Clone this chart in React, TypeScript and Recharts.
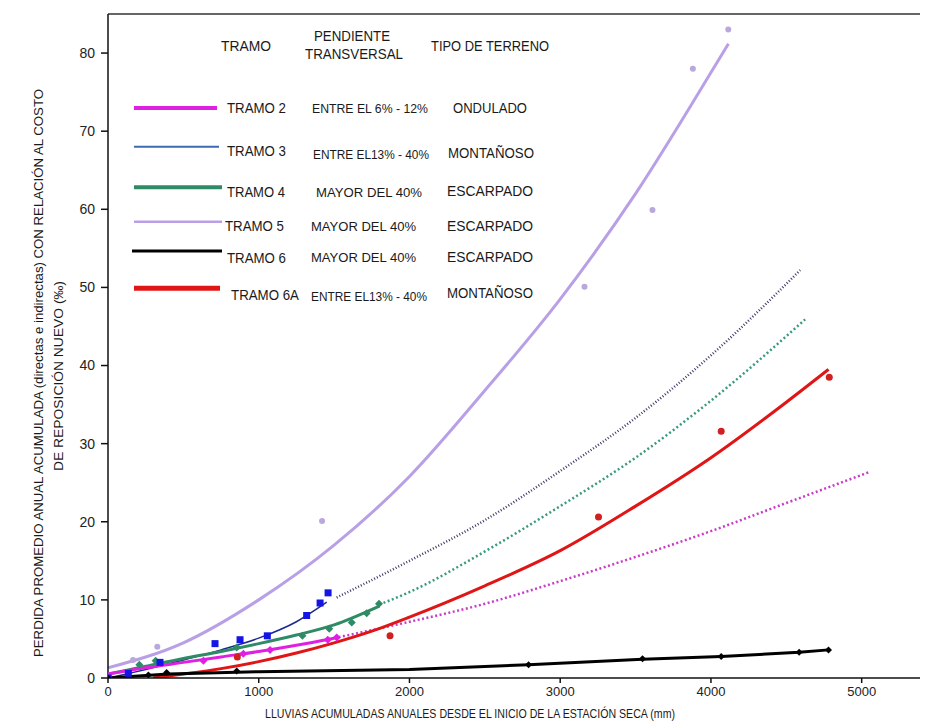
import React from "react";
import { ComposedChart, Line, Scatter, XAxis, YAxis, ReferenceLine } from "recharts";

// ---- axes ----
const xTicks = [0, 1000, 2000, 3000, 4000, 5000];
const yTicks = [0, 10, 20, 30, 40, 50, 60, 70, 80];

// ---- TRAMO 2 (magenta) ----
const t2Fit = [[0, 0.5], [250, 1.3], [500, 2.0], [750, 2.7], [1000, 3.4], [1250, 4.2], [1500, 5.1]];
const t2Trend = [[1500, 5.1], [2000, 7.2], [2500, 9.5], [3000, 12.4], [3500, 15.5], [4000, 18.8], [4500, 22.4], [5056, 26.4]];
const t2Pts = [[0, 0.3], [633, 2.2], [898, 3.1], [1075, 3.6], [1458, 4.9], [1517, 5.2]];

// ---- TRAMO 3 (blue) ----
const t3Fit = [[0, 0], [250, 1.1], [500, 2.3], [750, 3.6], [1000, 5.1], [1250, 7.2], [1451, 9.7]];
const t3Trend = [[1517, 10.3], [2000, 15.0], [2500, 20.2], [3000, 26.5], [3500, 33.3], [4000, 41.3], [4592, 52.2]];
const t3Pts = [[0, 0], [135, 0.6], [345, 2.0], [710, 4.4], [876, 4.9], [1057, 5.4], [1318, 8.0], [1407, 9.6], [1460, 10.9]];

// ---- TRAMO 4 (green) ----
const t4Fit = [[0, 0.5], [250, 1.5], [500, 2.5], [750, 3.4], [1000, 4.4], [1250, 5.5], [1500, 6.8], [1800, 9.2]];
const t4Trend = [[1800, 9.4], [2000, 11.0], [2500, 16.2], [3000, 22.0], [3500, 28.2], [4000, 35.5], [4625, 45.9]];
const t4Pts = [[0, 0.3], [208, 1.7], [316, 2.2], [854, 3.9], [1290, 5.4], [1468, 6.3], [1617, 7.1], [1716, 8.3], [1798, 9.5]];

// ---- TRAMO 5 (lavender) ----
const t5Fit = [[0, 1.3], [500, 4.5], [1000, 10.0], [1500, 17.0], [2000, 25.8], [2500, 36.8], [3000, 48.5], [3500, 62.0], [4000, 77.5], [4116, 81.2]];
const t5Pts = [[166, 2.3], [327, 4.0], [1420, 20.1], [3161, 50.1], [3612, 59.9], [3880, 78.0], [4115, 83.0]];

// ---- TRAMO 6 (black) ----
const t6Fit = [[0, 0], [400, 0.5], [1000, 0.8], [2000, 1.1], [2790, 1.7], [3546, 2.4], [4068, 2.75], [4585, 3.3], [4780, 3.6]];
const t6Pts = [[0, 0], [268, 0.4], [389, 0.7], [854, 0.9], [2790, 1.7], [3546, 2.45], [4068, 2.75], [4585, 3.3], [4780, 3.6]];

// ---- TRAMO 6A (red) ----
const t6aFit = [[300, 0], [500, 0.5], [750, 1.2], [1000, 2.1], [1250, 3.2], [1500, 4.5], [1750, 6.0], [2000, 7.8], [2500, 11.8], [3000, 16.3], [3500, 22.0], [4000, 28.2], [4500, 35.3], [4780, 39.5]];
const t6aPts = [[858, 2.7], [1871, 5.4], [3254, 20.6], [4068, 31.6], [4785, 38.5]];

// ---- legend table ----
const legendHeaders = ["TRAMO", "PENDIENTE", "TRANSVERSAL", "TIPO DE TERRENO"];
const legendTramos = ["TRAMO 2", "TRAMO 3", "TRAMO 4", "TRAMO 5", "TRAMO 6", "TRAMO 6A"];
const legendPend = ["ENTRE EL 6% - 12%", "ENTRE EL13% - 40%", "MAYOR DEL 40%", "MAYOR DEL 40%", "MAYOR DEL 40%", "ENTRE EL13% - 40%"];
const legendTerreno = ["ONDULADO", "MONTAÑOSO", "ESCARPADO", "ESCARPADO", "ESCARPADO", "MONTAÑOSO"];

const xLabel = "LLUVIAS ACUMULADAS ANUALES DESDE EL INICIO DE LA ESTACIÓN SECA (mm)";
const yLabel1 = "PERDIDA PROMEDIO ANUAL ACUMULADA (directas e indirectas) CON RELACIÓN AL COSTO";
const yLabel2 = "DE REPOSICIÓN NUEVO (‰)";

const toXY = (arr: number[][]) => arr.map(([x, y]) => ({ x, y }));

const FONT = "'Liberation Sans', Arial, sans-serif";

const C = {
  magenta: "#E020E0",
  magentaDot: "#C83CC8",
  blueLine: "#1C2A8C",
  blueMark: "#1414E6",
  blueTrend: "#3A3A66",
  blueLegend: "#3D6AB0",
  green: "#2F8B66",
  greenDot: "#3A9A80",
  lav: "#B9A0E6",
  lavPt: "#B8A8DC",
  black: "#000000",
  red: "#E01515",
  redPt: "#D02020",
};

const square = (p: any) => (
  <rect x={p.cx - 3.5} y={p.cy - 3.5} width={7} height={7} fill={p.fill} />
);
const circ = (r: number) => (p: any) => <circle cx={p.cx} cy={p.cy} r={r} fill={p.fill} />;
const diamond = (s: number) => (p: any) => (
  <path d={`M${p.cx},${p.cy - s}L${p.cx + s},${p.cy}L${p.cx},${p.cy + s}L${p.cx - s},${p.cy}Z`} fill={p.fill} />
);

type TP = { x: number; y: number; w: number; anchor?: "start" | "middle" | "end"; size?: number; children: React.ReactNode; rotate?: boolean };
const T = ({ x, y, w, anchor = "start", size = 14.5, children, rotate }: TP) => (
  <text
    x={x}
    y={y}
    textAnchor={anchor}
    fontFamily={FONT}
    fontSize={size}
    fill="#1a1a1a"
    textLength={w}
    lengthAdjust="spacingAndGlyphs"
    transform={rotate ? `rotate(-90 ${x} ${y})` : undefined}
  >
    {children}
  </text>
);

// legend row geometry (overlay coordinates = page - 8)
const rowLine = [
  { y: 100, x1: 126, x2: 209, w: 4, c: C.magenta },
  { y: 138.7, x1: 126, x2: 211, w: 2, c: C.blueLegend },
  { y: 179.3, x1: 126, x2: 214, w: 4, c: C.green },
  { y: 213.7, x1: 126, x2: 214, w: 2.5, c: C.lav },
  { y: 243, x1: 124, x2: 214, w: 3, c: C.black },
  { y: 280.3, x1: 126, x2: 212, w: 5, c: C.red },
];
const rowText = [
  { tx: 219, tw: 59, ty: 100, px: 362, pw: 116, py: 100, rx: 482, rw: 74, ry: 100 },
  { tx: 219, tw: 59, ty: 143, px: 363, pw: 116, py: 146, rx: 483, rw: 86, ry: 145 },
  { tx: 219, tw: 58, ty: 184, px: 361, pw: 106, py: 184, rx: 482, rw: 86, ry: 183 },
  { tx: 217, tw: 59, ty: 218, px: 355.5, pw: 105, py: 218, rx: 482, rw: 86, ry: 218 },
  { tx: 219, tw: 59, ty: 250, px: 355.5, pw: 105, py: 249, rx: 482, rw: 86, ry: 249 },
  { tx: 223, tw: 68, ty: 287, px: 361, pw: 116, py: 288, rx: 482, rw: 86, ry: 285 },
];

export default function App() {
  return (
    <div style={{ position: "relative", width: 920, height: 716, background: "#fff" }}>
      <ComposedChart width={920} height={716} margin={{ top: 6, right: 0, bottom: 16, left: 40 }}>
        <XAxis
          type="number"
          dataKey="x"
          domain={[0, 5440]}
          ticks={xTicks}
          allowDataOverflow
          height={30}
          stroke="#111"
          strokeWidth={1.5}
          tickSize={5}
          tickMargin={4}
          tick={{ fontFamily: FONT, fontSize: 13, fill: "#222" }}
        />
        <YAxis
          type="number"
          dataKey="y"
          domain={[0, 85]}
          ticks={yTicks}
          allowDataOverflow
          width={60}
          stroke="#111"
          strokeWidth={1.5}
          tickSize={7}
          tickMargin={6}
          tick={{ fontFamily: FONT, fontSize: 14, fill: "#222" }}
        />
        <ReferenceLine y={85} stroke="#333" strokeWidth={1.5} />

        {/* TRAMO 5 */}
        <Line data={toXY(t5Fit)} dataKey="y" type="monotone" stroke={C.lav} strokeWidth={3} dot={false} isAnimationActive={false} />
        <Scatter data={toXY(t5Pts)} dataKey="y" fill={C.lavPt} shape={circ(3)} isAnimationActive={false} />

        {/* TRAMO 3 */}
        <Line data={toXY(t3Trend)} dataKey="y" type="monotone" stroke={C.blueTrend} strokeWidth={2.5} strokeDasharray="1 2" dot={false} isAnimationActive={false} />
        <Line data={toXY(t3Fit)} dataKey="y" type="monotone" stroke={C.blueLine} strokeWidth={1.5} dot={false} isAnimationActive={false} />

        {/* TRAMO 4 */}
        <Line data={toXY(t4Trend)} dataKey="y" type="monotone" stroke={C.greenDot} strokeWidth={2.5} strokeDasharray="2 2.5" dot={false} isAnimationActive={false} />
        <Line data={toXY(t4Fit)} dataKey="y" type="monotone" stroke={C.green} strokeWidth={3} dot={false} isAnimationActive={false} />
        <Scatter data={toXY(t4Pts)} dataKey="y" fill={C.green} shape={diamond(4)} isAnimationActive={false} />

        {/* TRAMO 2 */}
        <Line data={toXY(t2Trend)} dataKey="y" type="monotone" stroke={C.magentaDot} strokeWidth={2.5} strokeDasharray="2 2.5" dot={false} isAnimationActive={false} />
        <Line data={toXY(t2Fit)} dataKey="y" type="monotone" stroke={C.magenta} strokeWidth={3} dot={false} isAnimationActive={false} />
        <Scatter data={toXY(t2Pts)} dataKey="y" fill={C.magenta} shape={diamond(4)} isAnimationActive={false} />

        {/* TRAMO 6A */}
        <Line data={toXY(t6aFit)} dataKey="y" type="monotone" stroke={C.red} strokeWidth={3} dot={false} isAnimationActive={false} />
        <Scatter data={toXY(t6aPts)} dataKey="y" fill={C.redPt} shape={circ(3.5)} isAnimationActive={false} />

        {/* TRAMO 3 markers */}
        <Scatter data={toXY(t3Pts)} dataKey="y" fill={C.blueMark} shape={square} isAnimationActive={false} />

        {/* TRAMO 6 */}
        <Line data={toXY(t6Fit)} dataKey="y" type="linear" stroke={C.black} strokeWidth={3} dot={false} isAnimationActive={false} />
        <Scatter data={toXY(t6Pts)} dataKey="y" fill={C.black} shape={diamond(3.5)} isAnimationActive={false} />
      </ComposedChart>

      <svg width={920} height={716} style={{ position: "absolute", left: 0, top: 0, pointerEvents: "none" }}>
        {/* headers */}
        <T x={238} y={43} w={50} anchor="middle">{legendHeaders[0]}</T>
        <T x={344} y={33} w={76} anchor="middle">{legendHeaders[1]}</T>
        <T x={346} y={51} w={98} anchor="middle">{legendHeaders[2]}</T>
        <T x={482} y={43} w={118} anchor="middle">{legendHeaders[3]}</T>

        {rowLine.map((r, i) => (
          <line key={"l" + i} x1={r.x1} x2={r.x2} y1={r.y} y2={r.y} stroke={r.c} strokeWidth={r.w} />
        ))}
        {rowText.map((r, i) => (
          <g key={"t" + i}>
            <T x={r.tx} y={r.ty + 5} w={r.tw}>{legendTramos[i]}</T>
            <T x={r.px} y={r.py + 5} w={r.pw} anchor="middle" size={13}>{legendPend[i]}</T>
            <T x={r.rx} y={r.ry + 5} w={r.rw} anchor="middle" size={14}>{legendTerreno[i]}</T>
          </g>
        ))}

        {/* axis titles */}
        <T x={462} y={710} w={410} anchor="middle" size={13}>{xLabel}</T>
        <T x={35} y={365} w={568} anchor="middle" size={13} rotate>{yLabel1}</T>
        <T x={55} y={368} w={190} anchor="middle" size={13} rotate>{yLabel2}</T>
      </svg>
    </div>
  );
}
